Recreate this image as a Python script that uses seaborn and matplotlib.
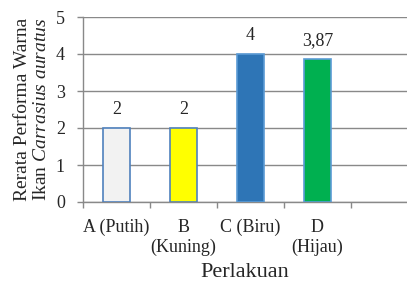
import matplotlib
matplotlib.use("Agg")
import matplotlib.pyplot as plt
import seaborn as sns
import pandas as pd
from matplotlib.ticker import FixedLocator, NullFormatter

categories = ["A (Putih)", "B\n(Kuning)", "C (Biru)", "D\n(Hijau)"]
values = [2, 2, 4, 3.87]
value_labels = ["2", "2", "4", "3,87"]
colors = ["#f2f2f2", "#ffff00", "#2e75b6", "#00b050"]
edge_colors = ["#4f81bd", "#4f81bd", "#5b9bd5", "#5b9bd5"]
y_ticks = [0, 1, 2, 3, 4, 5]

sns.set_style("white")
plt.rcParams["font.family"] = ["Liberation Serif", "DejaVu Serif"]
plt.rcParams["mathtext.fontset"] = "custom"
plt.rcParams["mathtext.rm"] = "Liberation Serif"
plt.rcParams["mathtext.it"] = "Liberation Serif:italic"

df = pd.DataFrame({"cat": categories, "val": values})

fig = plt.figure(figsize=(4.07, 2.81), dpi=100)
ax = fig.add_axes([83 / 407, 1 - 202 / 281, 1 - 83 / 407, (202 - 17) / 281])

sns.barplot(data=df, x="cat", y="val", hue="cat", palette=colors,
            width=0.4, legend=False, ax=ax, saturation=1)
for patch, ec in zip(ax.patches, edge_colors):
    patch.set_edgecolor(ec)
    patch.set_linewidth(1.2)
    patch.set_zorder(3)

for i, (v, lab) in enumerate(zip(values, value_labels)):
    ax.annotate(lab, xy=(i, v), xytext=(0, 7), textcoords="offset points",
                ha="center", va="bottom", fontsize=13)

ax.set_ylim(0, 5)
ax.set_yticks(y_ticks)
ax.set_xlim(-0.5, -0.5 + 324 / 67)

grid_c = "#898989"
ax.yaxis.grid(True, color=grid_c, linewidth=1.0, zorder=0)
ax.set_axisbelow(True)
for s in ["top", "right"]:
    ax.spines[s].set_visible(False)
for s in ["left", "bottom"]:
    ax.spines[s].set_color(grid_c)
    ax.spines[s].set_linewidth(1.0)

ax.tick_params(axis="y", which="major", direction="out", length=4, width=1,
               color=grid_c, pad=9, labelsize=13, left=True)
ax.tick_params(axis="x", which="major", length=0, pad=12, labelsize=13)
for t in ax.get_xticklabels():
    t.set_linespacing(1.25)
ax.xaxis.set_minor_locator(FixedLocator([-0.5, 0.5, 1.5, 2.5, 3.5]))
ax.xaxis.set_minor_formatter(NullFormatter())
ax.tick_params(axis="x", which="minor", direction="out", length=4, width=1,
               color=grid_c, bottom=True)

ax.set_xlabel("Perlakuan", fontsize=16, labelpad=5)
ax.set_ylabel("Rerata Performa Warna\nIkan $\\it{Carrasius}$ $\\it{auratus}$",
              fontsize=14, labelpad=4)

fig.savefig("out.png", dpi=100)
